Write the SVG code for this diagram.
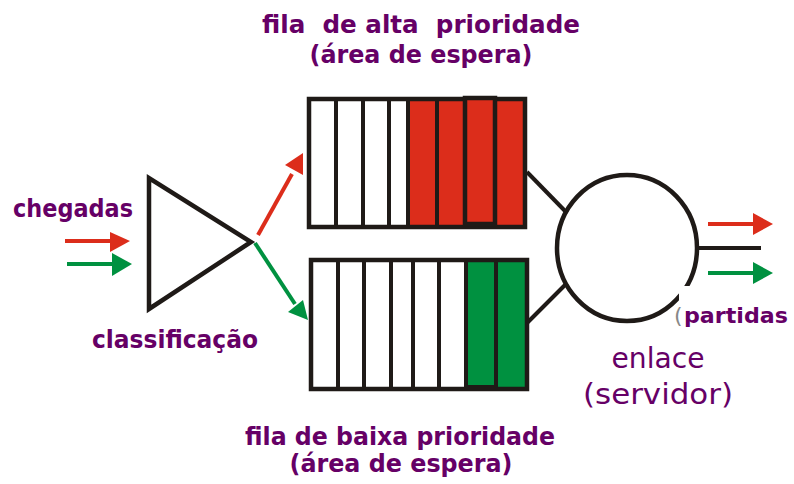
<svg xmlns="http://www.w3.org/2000/svg" width="794" height="484" viewBox="0 0 794 484">
<defs>
<style>
.lbl{font-family:"DejaVu Sans","Liberation Sans",sans-serif;font-weight:bold;fill:#660066;font-size:25px}
.big{font-family:"DejaVu Sans","Liberation Sans",sans-serif;fill:#660066;font-size:28px}
.box{fill:none;stroke:#1f1a17;stroke-width:4.5}
.div{stroke:#1f1a17;stroke-width:4}
.red{fill:#dc2d1b}
.grn{fill:#009140}
.ln{stroke:#1f1a17;stroke-width:4;fill:none}
</style>
</defs>
<rect width="794" height="484" fill="#fff"/>

<g id="title-high">
<text class="lbl" x="421" y="33" text-anchor="middle" textLength="318" lengthAdjust="spacingAndGlyphs" xml:space="preserve">fila  de alta  prioridade</text>
<text class="lbl" x="421" y="63" text-anchor="middle" textLength="223" lengthAdjust="spacingAndGlyphs">(área de espera)</text>
</g>

<g id="queue-high">
<rect class="red" x="409" y="99" width="116" height="127"/>
<rect class="box" x="309" y="99" width="216" height="128"/>
<line class="div" x1="336" y1="99" x2="336" y2="227"/>
<line class="div" x1="363" y1="99" x2="363" y2="227"/>
<line class="div" x1="389" y1="99" x2="389" y2="227"/>
<line class="div" x1="408" y1="99" x2="408" y2="227"/>
<line class="div" x1="437" y1="99" x2="437" y2="227"/>
<rect x="465" y="98" width="30" height="126" fill="#dc2d1b" stroke="#1f1a17" stroke-width="4.5"/>
</g>

<g id="queue-low">
<rect class="grn" x="467" y="260" width="58" height="128"/>
<rect class="box" x="311" y="260" width="216" height="129"/>
<line class="div" x1="338" y1="260" x2="338" y2="389"/>
<line class="div" x1="364" y1="260" x2="364" y2="389"/>
<line class="div" x1="391" y1="260" x2="391" y2="389"/>
<line class="div" x1="413" y1="260" x2="413" y2="389"/>
<line class="div" x1="439" y1="260" x2="439" y2="389"/>
<line class="div" x1="466" y1="258" x2="466" y2="389"/>
<line class="div" x1="496" y1="260" x2="496" y2="389"/>
<line class="div" x1="466" y1="387" x2="496" y2="387"/>
</g>

<g id="classifier">
<polygon points="149,178 149,309 251,242" fill="#fff" stroke="#1f1a17" stroke-width="4.5" stroke-linejoin="miter"/>
</g>

<g id="server">
<ellipse cx="627" cy="248" rx="70" ry="73" fill="#fff" stroke="#1f1a17" stroke-width="4.5"/>
<rect x="679" y="286" width="115" height="44" fill="#fff"/>
</g>

<g id="connectors">
<line class="ln" x1="527" y1="172" x2="567" y2="213"/>
<line class="ln" x1="527" y1="323" x2="567" y2="283"/>
<line class="ln" x1="698" y1="248" x2="761" y2="248"/>
<line x1="65" y1="241" x2="112" y2="241" stroke="#dc2d1b" stroke-width="4"/>
<polygon points="110,232 130,241 110,252" fill="#dc2d1b"/>
<line x1="67" y1="264" x2="114" y2="264" stroke="#009140" stroke-width="4"/>
<polygon points="112,253 132,264 112,276" fill="#009140"/>
<line x1="258" y1="235" x2="292" y2="174" stroke="#dc2d1b" stroke-width="4"/>
<polygon points="303,153 285,165 303,175" fill="#dc2d1b"/>
<line x1="255" y1="243" x2="295" y2="304" stroke="#009140" stroke-width="4"/>
<polygon points="308,320 288,312 303,300" fill="#009140"/>
<line x1="708" y1="224" x2="755" y2="224" stroke="#dc2d1b" stroke-width="4"/>
<polygon points="753,213 773,224 753,235" fill="#dc2d1b"/>
<line x1="708" y1="273" x2="755" y2="273" stroke="#009140" stroke-width="4"/>
<polygon points="753,262 773,273 753,284" fill="#009140"/>
</g>

<g id="labels">
<text class="lbl" x="13" y="217" textLength="120" lengthAdjust="spacingAndGlyphs">chegadas</text>
<text class="lbl" x="92" y="348" textLength="166" lengthAdjust="spacingAndGlyphs">classificação</text>
<text x="674" y="323" style="font-family:'DejaVu Sans',sans-serif;font-size:22px;fill:#888">(</text>
<text class="lbl" x="684" y="323" style="font-size:21px" textLength="104" lengthAdjust="spacingAndGlyphs">partidas</text>
<text class="big" x="658" y="368" text-anchor="middle" textLength="93" lengthAdjust="spacingAndGlyphs">enlace</text>
<text class="big" x="658" y="404" text-anchor="middle" textLength="150" lengthAdjust="spacingAndGlyphs">(servidor)</text>
</g>

<g id="title-low">
<text class="lbl" x="400" y="445" text-anchor="middle" textLength="310" lengthAdjust="spacingAndGlyphs">fila de baixa prioridade</text>
<text class="lbl" x="401" y="472" text-anchor="middle" textLength="223" lengthAdjust="spacingAndGlyphs">(área de espera)</text>
</g>
</svg>
